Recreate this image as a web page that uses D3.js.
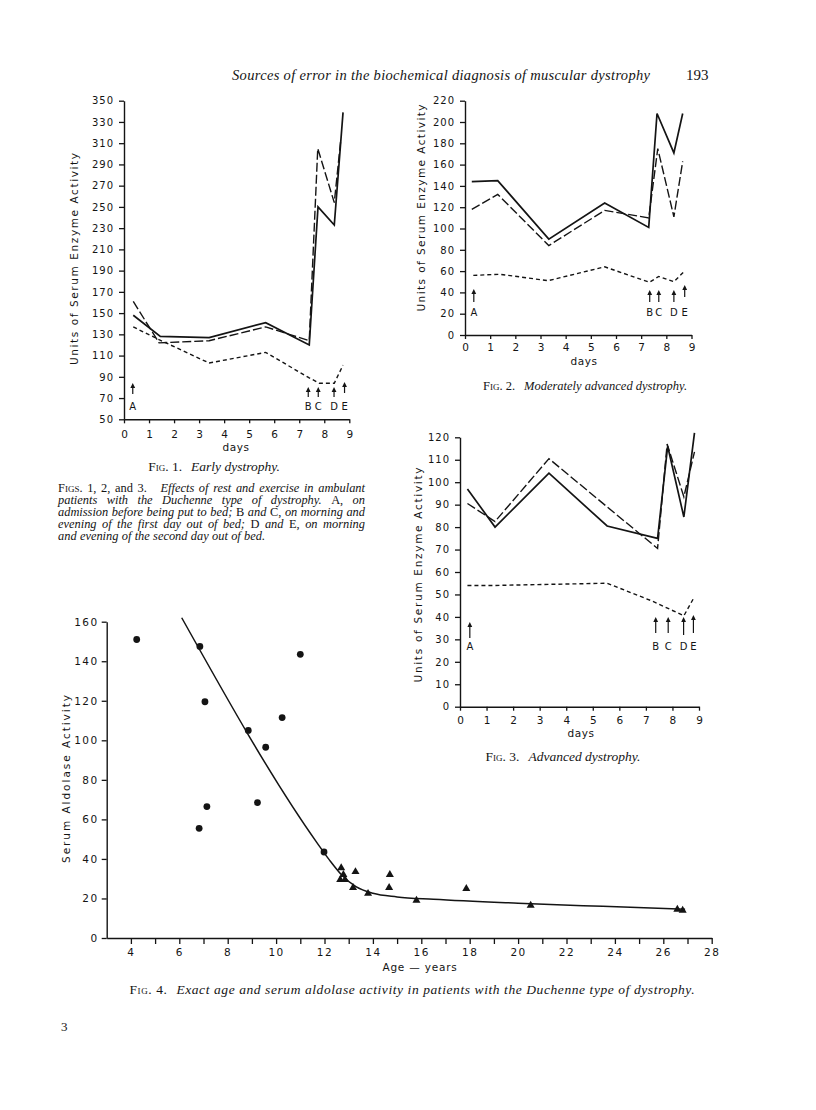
<!DOCTYPE html>
<html><head><meta charset="utf-8">
<script src="https://cdn.jsdelivr.net/npm/d3@7"></script>
<style>body{margin:0;background:#fff}svg{display:block}</style>
</head><body><svg id="c" width="816" height="1110"></svg>
<script>
// ---------- DATA ----------
const dayTicks = [0,1,2,3,4,5,6,7,8,9];
const fig1YTicks = d3.range(50, 351, 20);
const fig2YTicks = d3.range(0, 221, 20);
const fig3YTicks = d3.range(0, 121, 10);
const fig4YTicks = d3.range(0, 161, 20);
const fig4XTicks = d3.range(4, 29, 1);

// [day, units]
const fig1Solid = [[0.37,148],[1.45,128],[3.4,127],[5.66,141],[7.4,120],[7.75,250],[8.4,233],[8.75,339]];
const fig1Long  = [[0.37,161],[1.4,122],[3.4,124],[5.66,137],[7.4,124],[7.74,305],[8.4,254],[8.65,311]];
const fig1Short = [[0.37,137],[1.4,125],[3.4,103],[5.66,113],[7.4,89],[7.8,84],[8.4,84],[8.75,101]];

const fig2Solid = [[0.27,144],[1.3,145],[3.33,90],[5.55,124],[7.3,101],[7.63,208],[8.3,171],[8.65,208]];
const fig2Long  = [[0.27,118],[1.3,132],[3.33,84],[5.55,117],[7.3,110],[7.66,175],[8.3,111],[8.65,163]];
const fig2Short = [[0.33,56],[1.4,57],[3.3,51],[5.55,64],[7.33,49.5],[7.7,55],[8.3,50],[8.7,59.5]];

const fig3Solid = [[0.28,97],[1.32,80],[3.35,104],[5.54,80.5],[7.44,75],[7.82,116],[8.43,84.5],[8.83,122]];
const fig3Long  = [[0.28,90.5],[1.32,82.5],[3.35,110.5],[5.54,89],[7.44,70.5],[7.8,117],[8.43,93.5],[8.83,113.5]];
const fig3Short = [[0.28,54],[1.25,54],[5.54,55],[7.25,47],[8.43,40.5],[8.83,49]];

const arrowLetters = ['A','B','C','D','E'];
const fig1ArrowDays = [0.35,7.36,7.76,8.39,8.81];
const fig2ArrowDays = [0.35,7.34,7.7,8.3,8.73];
const fig3ArrowDays = [0.37,7.37,7.84,8.42,8.79];

// [age in years, serum aldolase activity]
const ageCircles = [[4.24,151],[6.85,147.5],[7.06,119.5],[8.85,105],[9.57,96.5],[10.25,111.5],[11.0,143.5],[6.82,55.5],[7.14,66.5],[9.23,68.5],[11.98,43.5]];
const ageTriangles = [[12.69,35.5],[12.78,32],[12.65,29.5],[12.85,29.5],[13.28,33.5],[13.18,25.5],[13.8,22.5],[14.7,32],[14.67,25.5],[15.8,19],[17.86,25],[20.52,16.5],[26.58,14.5],[26.8,14]];
const fitCurve = [[6.1,162],[11.7,48],[12.2,39.5],[12.7,32],[13.3,26],[14,22.6],[15,20.8],[16.5,19.6],[20,17.6],[23.5,16],[26.9,14.5]];

// ---------- DRAW ----------
const svg = d3.select('#c');
svg.append('rect').attr('width',816).attr('height',1110).attr('fill','#fff');
const SANS = "'DejaVu Sans', sans-serif";
const SERIF = "'Liberation Serif', 'Times New Roman', serif";
const INK = '#141414';

function styleAxis(sel, fs, ls) {
  sel.selectAll('path.domain').attr('stroke', INK).attr('stroke-width', 1.4);
  sel.selectAll('.tick line').attr('stroke', INK).attr('stroke-width', 1.3);
  sel.selectAll('.tick text').attr('fill', INK).attr('font-family', SANS)
    .attr('font-size', fs).attr('letter-spacing', ls);
}

function yTitle(text, bx, cy, len, fs) {
  svg.append('text').attr('transform', `translate(${bx},${cy}) rotate(-90)`)
    .attr('text-anchor','middle').attr('font-family', SANS).attr('font-size', fs)
    .attr('fill', INK).attr('textLength', len).attr('lengthAdjust','spacing').text(text);
}

function arrow(g, x, top, bottom) {
  g.append('line').attr('x1',x).attr('x2',x).attr('y1',top+3).attr('y2',bottom)
    .attr('stroke',INK).attr('stroke-width',1.2);
  g.append('path').attr('d',`M${x-2.4},${top+5} L${x},${top} L${x+2.4},${top+5} Z`).attr('fill',INK);
}

function dayChart(cfg) {
  const g = svg.append('g');
  const x = d3.scaleLinear().domain([0,9]).range(cfg.xr);
  const y = d3.scaleLinear().domain(cfg.yd).range(cfg.yr);
  const ya = g.append('g').attr('transform',`translate(${cfg.xr[0]},0)`)
    .call(d3.axisLeft(y).tickValues(cfg.yt).tickSize(5).tickPadding(5).tickSizeOuter(0));
  styleAxis(ya, 10, 1);
  const xa = g.append('g').attr('transform',`translate(0,${cfg.yr[0]})`)
    .call(d3.axisBottom(x).tickValues(dayTicks).tickSize(4).tickPadding(cfg.xpad).tickSizeOuter(0));
  styleAxis(xa, 10.5, 0);
  const line = d3.line().x(d=>x(d[0])).y(d=>y(d[1]));
  g.append('path').attr('d',line(cfg.solid)).attr('fill','none').attr('stroke',INK).attr('stroke-width',1.7).attr('stroke-linejoin','miter');
  g.append('path').attr('d',line(cfg.long)).attr('fill','none').attr('stroke',INK).attr('stroke-width',1.4).attr('stroke-dasharray','9,3');
  g.append('path').attr('d',line(cfg.short)).attr('fill','none').attr('stroke',INK).attr('stroke-width',1.4).attr('stroke-dasharray','4,3');
  cfg.arrows.forEach((d,i)=>{
    const ax = x(d);
    const [t,b] = cfg.arrowY[i];
    arrow(g, ax, t, b);
    g.append('text').attr('x',ax).attr('y',cfg.labelY).attr('text-anchor','middle')
      .attr('font-family',SANS).attr('font-size',10).attr('fill',INK).text(arrowLetters[i]);
  });
  g.append('text').attr('x',cfg.daysX).attr('y',cfg.daysY).attr('text-anchor','middle')
    .attr('font-family',SANS).attr('font-size',10.5).attr('letter-spacing',0.6).attr('fill',INK).text('days');
}

function caption(x, y, num, body, fs) {
  const t = svg.append('text').attr('x',x).attr('y',y).attr('text-anchor','middle')
    .attr('font-family',SERIF).attr('font-size',fs).attr('fill',INK);
  t.append('tspan').style('font-variant','small-caps').text('Fig. ' + num + '.');
  t.append('tspan').attr('dx',9).attr('font-style','italic').text(body);
}

// Header
svg.append('text').attr('x',232).attr('y',80).attr('font-family',SERIF).attr('font-style','italic')
  .attr('font-size',14.5).attr('fill',INK).attr('textLength',418).attr('lengthAdjust','spacing')
  .text('Sources of error in the biochemical diagnosis of muscular dystrophy');
svg.append('text').attr('x',686).attr('y',80).attr('font-family',SERIF).attr('font-size',15).attr('fill',INK).text('193');
svg.append('text').attr('x',61).attr('y',1031).attr('font-family',SERIF).attr('font-size',13).attr('fill',INK).text('3');

// Fig 1
dayChart({xr:[124,349.3], yd:[50,350], yr:[419.3,100.7], yt:fig1YTicks, xpad:7,
  solid:fig1Solid, long:fig1Long, short:fig1Short, arrows:fig1ArrowDays,
  arrowY:[[383,394],[387,397],[387,397],[387,397],[382,393]], labelY:410, daysX:236, daysY:451});
yTitle('Units of Serum Enzyme Activity', 78, 259, 212, 10.5);
caption(214, 471, 1, 'Early dystrophy.', 13.5);

// Fig 2
dayChart({xr:[465,691.5], yd:[0,220], yr:[335,100.7], yt:fig2YTicks, xpad:5,
  solid:fig2Solid, long:fig2Long, short:fig2Short, arrows:fig2ArrowDays,
  arrowY:[[289,302],[290,302],[290,302],[290,302],[285,297]], labelY:315.5, daysX:584, daysY:365});
yTitle('Units of Serum Enzyme Activity', 425, 208, 207, 10.5);
caption(585, 390, 2, 'Moderately advanced dystrophy.', 12.5);

// Fig 3
dayChart({xr:[460,699], yd:[0,120], yr:[706.7,437.3], yt:fig3YTicks, xpad:6,
  solid:fig3Solid, long:fig3Long, short:fig3Short, arrows:fig3ArrowDays,
  arrowY:[[622,638],[617,633],[617,633],[617,635],[615,633]], labelY:650, daysX:581, daysY:737});
yTitle('Units of Serum Enzyme Activity', 422, 575, 215, 10.5);
caption(563, 761, 3, 'Advanced dystrophy.', 13.5);

// Fig 1-3 paragraph (justified)
(function(){
  const x0 = 58, x1 = 365, FS = 12.4, GAPX = 9, MINGAP = 2.6;
  const lines = [
    {y:492, j:true, w:[['Figs.','sc'],['1,','r'],['2,','r'],['and','r'],['3.','r','gap'],['Effects','i'],['of','i'],['rest','i'],['and','i'],['exercise','i'],['in','i'],['ambulant','i']]},
    {y:504, j:true, w:[['patients','i'],['with','i'],['the','i'],['Duchenne','i'],['type','i'],['of','i'],['dystrophy.','i'],['A,','r'],['on','i']]},
    {y:516, j:true, w:[['admission','i'],['before','i'],['being','i'],['put','i'],['to','i'],['bed;','i'],['B','r'],['and','i'],['C,','r'],['on','i'],['morning','i'],['and','i']]},
    {y:528, j:true, w:[['evening','i'],['of','i'],['the','i'],['first','i'],['day','i'],['out','i'],['of','i'],['bed;','i'],['D','r'],['and','i'],['E,','r'],['on','i'],['morning','i']]},
    {y:540, j:false, w:[['and','i'],['evening','i'],['of','i'],['the','i'],['second','i'],['day','i'],['out','i'],['of','i'],['bed.','i']]}
  ];
  lines.forEach(L=>{
    const nodes = L.w.map(w=>{
      const t = svg.append('text').attr('y',L.y).attr('font-family',SERIF).attr('font-size',FS).attr('fill',INK).text(w[0]);
      if (w[1]==='i') t.attr('font-style','italic');
      if (w[1]==='sc') t.style('font-variant','small-caps');
      return t;
    });
    let widths = nodes.map(n=>n.node().getComputedTextLength());
    const extra = L.w.reduce((s,w)=>s+(w[2]==='gap'?GAPX:0),0);
    const avail = x1 - x0 - extra;
    const n = nodes.length;
    let sum = d3.sum(widths);
    if (sum + MINGAP*(n-1) > avail) {
      const s = (avail - MINGAP*(n-1)) / sum;
      widths = widths.map((w,i)=>{ nodes[i].attr('textLength', w*s).attr('lengthAdjust','spacingAndGlyphs'); return w*s; });
      sum = d3.sum(widths);
    }
    const gap = L.j ? (avail - sum)/(n-1) : 3.3;
    let cx = x0;
    nodes.forEach((nd,i)=>{ nd.attr('x',cx); cx += widths[i] + gap + (L.w[i][2]==='gap'?GAPX:0); });
  });
})();

// Fig 4
(function(){
  const g = svg.append('g');
  const x = d3.scaleLinear().domain([3,28]).range([106.7,711.7]);
  const y = d3.scaleLinear().domain([0,160]).range([938,621.7]);
  const ya = g.append('g').attr('transform',`translate(${x(3)},0)`)
    .call(d3.axisLeft(y).tickValues(fig4YTicks).tickSize(5).tickPadding(3).tickSizeOuter(0));
  styleAxis(ya, 10.5, 1.5);
  const xa = g.append('g').attr('transform',`translate(0,${y(0)})`)
    .call(d3.axisBottom(x).tickValues(fig4XTicks).tickFormat(d=>d%2===0?d:'').tickSize(6).tickPadding(5).tickSizeOuter(0));
  styleAxis(xa, 10.5, 1.5);
  const line = d3.line().x(d=>x(d[0])).y(d=>y(d[1])).curve(d3.curveMonotoneX);
  g.append('path').attr('d',line(fitCurve)).attr('fill','none').attr('stroke',INK).attr('stroke-width',1.5);
  g.selectAll('circle.pt').data(ageCircles).join('circle').attr('class','pt')
    .attr('cx',d=>x(d[0])).attr('cy',d=>y(d[1])).attr('r',3.4).attr('fill',INK);
  const tri = d3.symbol().type(d3.symbolTriangle).size(28);
  g.selectAll('path.tri').data(ageTriangles).join('path').attr('class','tri')
    .attr('transform',d=>`translate(${x(d[0])},${y(d[1])})`).attr('d',tri()).attr('fill',INK);
  g.append('text').attr('x',420).attr('y',971).attr('text-anchor','middle').attr('font-family',SANS)
    .attr('font-size',10.5).attr('letter-spacing',0.8).attr('fill',INK).text('Age — years');
  yTitle('Serum Aldolase Activity', 70, 779, 168, 10.5);
  const t = svg.append('text').attr('x',412).attr('y',994).attr('text-anchor','middle')
    .attr('font-family',SERIF).attr('font-size',13.5).attr('fill',INK)
    .attr('textLength',565).attr('lengthAdjust','spacing');
  t.append('tspan').style('font-variant','small-caps').text('Fig. 4.');
  t.append('tspan').attr('dx',9).attr('font-style','italic').text('Exact age and serum aldolase activity in patients with the Duchenne type of dystrophy.');
})();
</script></body></html>
